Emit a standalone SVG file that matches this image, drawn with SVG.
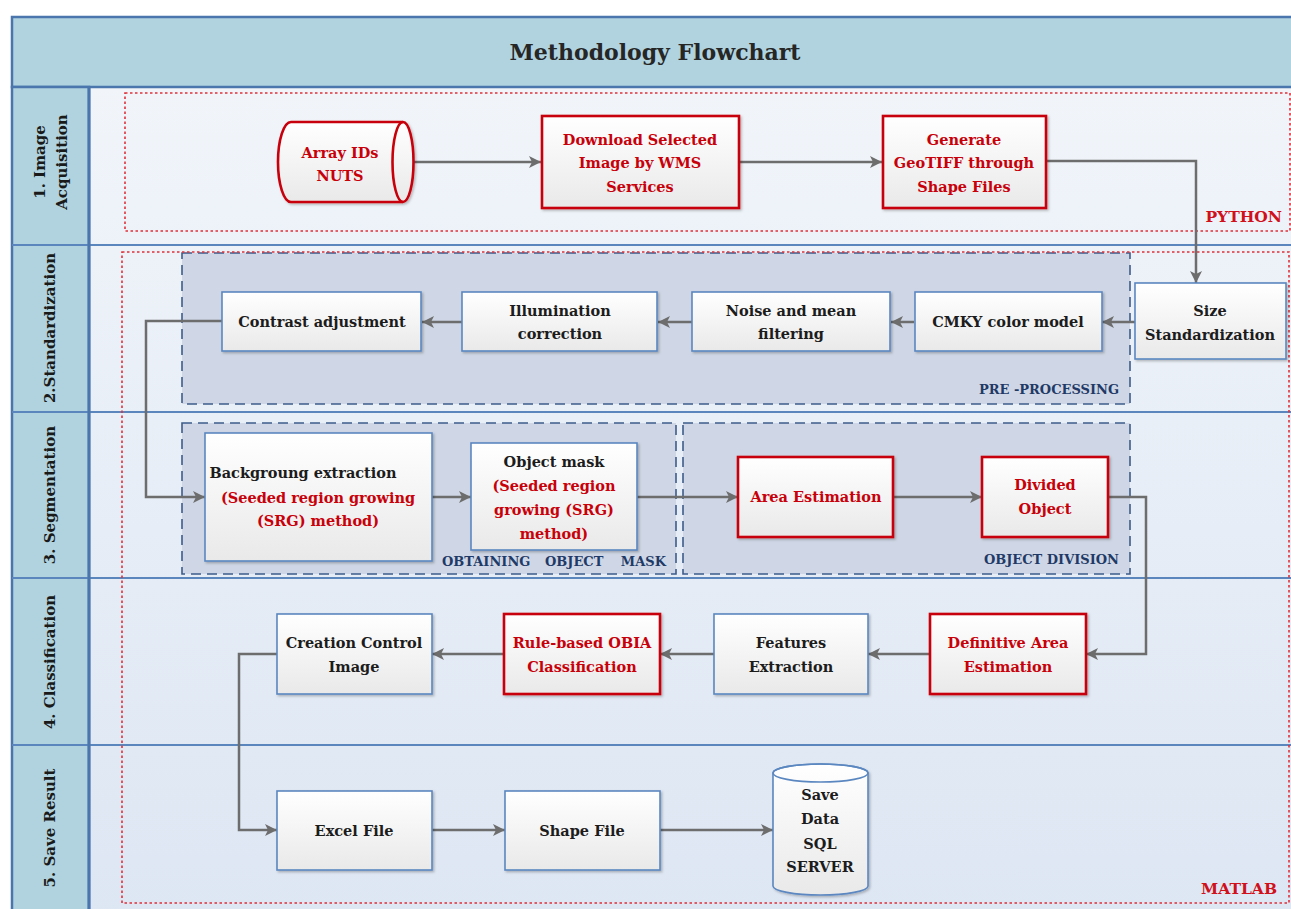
<svg xmlns="http://www.w3.org/2000/svg" width="1291" height="909" viewBox="0 0 1291 909">
<style>
.t{font-family:"DejaVu Serif","Liberation Serif",serif;font-weight:bold;font-size:14.5px;fill:#1c1c1c;text-anchor:middle}
.r{fill:#c8000a}
.lane{font-family:"DejaVu Serif","Liberation Serif",serif;font-weight:bold;font-size:15px;fill:#1a1a1a;text-anchor:middle}
.title{font-family:"DejaVu Serif","Liberation Serif",serif;font-weight:bold;font-size:22px;fill:#262626;text-anchor:middle}
.gl{font-family:"DejaVu Serif","Liberation Serif",serif;font-weight:bold;font-size:13px;fill:#1f3a66}
.env{font-family:"DejaVu Serif","Liberation Serif",serif;font-weight:bold;font-size:15.5px;fill:#d0101a;text-anchor:end}
.bn{fill:url(#nf);stroke:#5b87c0;stroke-width:1.6;filter:url(#sh)}
.rn{fill:url(#nf);stroke:#c8000a;stroke-width:2.6;filter:url(#sh)}
.grp{fill:#cfd7e6;stroke:#3d5c8a;stroke-width:1.6;stroke-dasharray:10,6}
.dot{fill:none;stroke:#e0303a;stroke-width:1.6;stroke-dasharray:2.5,2.5}
.c{fill:none;stroke:#6d6d6d;stroke-width:2.5;marker-end:url(#ah)}
.div{stroke:#5a85bd;stroke-width:2.2}
</style>
<defs>
<linearGradient id="nf" x1="0" y1="0" x2="0" y2="1"><stop offset="0" stop-color="#ffffff"/><stop offset="1" stop-color="#e9e9e9"/></linearGradient>
<linearGradient id="bg" x1="0" y1="0" x2="0" y2="1"><stop offset="0" stop-color="#f1f5fa"/><stop offset="1" stop-color="#dde6f3"/></linearGradient>
<filter id="sh" x="-10%" y="-10%" width="120%" height="130%"><feDropShadow dx="1.5" dy="1.5" stdDeviation="1.2" flood-color="#000" flood-opacity="0.25"/></filter>
<marker id="ah" markerWidth="13" markerHeight="12" refX="12" refY="6" orient="auto" markerUnits="userSpaceOnUse"><path d="M0,0 L12,6 L0,12 L3,6 Z" fill="#6d6d6d"/></marker>
</defs>
<rect x="0" y="0" width="1291" height="909" fill="#ffffff"/>
<g id="frame">
<rect x="89" y="87" width="1215" height="830" fill="url(#bg)"/>
<rect x="12" y="17" width="1290" height="70" fill="#b0d3df" stroke="#4a76ad" stroke-width="2.5"/>
<rect x="12" y="87" width="77" height="830" fill="#b0d3df" stroke="#4a76ad" stroke-width="2.5"/>
<line class="div" x1="12" y1="245" x2="1300" y2="245"/>
<line class="div" x1="12" y1="412" x2="1300" y2="412"/>
<line class="div" x1="12" y1="578" x2="1300" y2="578"/>
<line class="div" x1="12" y1="745" x2="1300" y2="745"/>
<line x1="89" y1="87" x2="89" y2="909" stroke="#4a76ad" stroke-width="3"/>
<text class="title" x="655" y="60">Methodology Flowchart</text>
<text class="lane" transform="translate(45,162) rotate(-90)">1. Image</text>
<text class="lane" transform="translate(67,162) rotate(-90)">Acquisition</text>
<text class="lane" transform="translate(55,328) rotate(-90)">2.Standardization</text>
<text class="lane" transform="translate(55,495) rotate(-90)">3. Segmentation</text>
<text class="lane" transform="translate(55,662) rotate(-90)">4. Classification</text>
<text class="lane" transform="translate(55,828) rotate(-90)">5. Save Result</text>
</g>
<g id="groups">
<rect class="grp" x="182" y="253" width="948" height="151"/>
<text class="gl" x="1119" y="394" text-anchor="end">PRE -PROCESSING</text>
<rect class="grp" x="182" y="423" width="494" height="151"/>
<text class="gl" x="442" y="566">OBTAINING</text>
<text class="gl" x="545" y="566">OBJECT</text>
<text class="gl" x="666" y="566" text-anchor="end">MASK</text>
<rect class="grp" x="683" y="423" width="447" height="151"/>
<text class="gl" x="1119" y="564" text-anchor="end">OBJECT DIVISION</text>
<rect class="dot" x="125" y="93" width="1165" height="138"/>
<text class="env" x="1282" y="222">PYTHON</text>
<rect class="dot" x="122" y="252" width="1167" height="651"/>
<text class="env" x="1277" y="894">MATLAB</text>
</g>
<g id="connectors">
<path class="c" d="M403,162 H541"/>
<path class="c" d="M739,162 H882"/>
<path class="c" d="M1046,161 H1196 V283"/>
<path class="c" d="M1135,322 H1102"/>
<path class="c" d="M914,322 H891"/>
<path class="c" d="M692,322 H658"/>
<path class="c" d="M462,322 H422"/>
<path class="c" d="M222,321 H146 V497 H205"/>
<path class="c" d="M432,497 H471"/>
<path class="c" d="M637,497 H738"/>
<path class="c" d="M893,497 H982"/>
<path class="c" d="M1108,497 H1146 V654 H1086"/>
<path class="c" d="M930,654 H868"/>
<path class="c" d="M714,654 H660"/>
<path class="c" d="M504,654 H432"/>
<path class="c" d="M277,654 H239 V830 H277"/>
<path class="c" d="M432,830 H505"/>
<path class="c" d="M660,830 H773"/>
</g>
<g id="n-array">
<path class="rn" d="M291,122 L403,122 A10.5,40 0 0 1 403,202 L291,202 A13,40 0 0 1 291,122 Z"/>
<path d="M403,122 A10.5,40 0 0 0 403,202" fill="none" stroke="#c8000a" stroke-width="2.6"/>
<text class="t r" x="340" y="158">Array IDs</text>
<text class="t r" x="340" y="181">NUTS</text>
</g>
<g id="n-download">
<rect class="rn" x="542" y="116" width="197" height="92"/>
<text class="t r" x="640" y="145">Download Selected</text>
<text class="t r" x="640" y="168">Image by WMS</text>
<text class="t r" x="640" y="192">Services</text>
</g>
<g id="n-geotiff">
<rect class="rn" x="883" y="116" width="163" height="92"/>
<text class="t r" x="964" y="145">Generate</text>
<text class="t r" x="964" y="168">GeoTIFF through</text>
<text class="t r" x="964" y="192">Shape Files</text>
</g>
<g id="n-size">
<rect class="bn" x="1135" y="283" width="151" height="76"/>
<text class="t" x="1210" y="316">Size</text>
<text class="t" x="1210" y="340">Standardization</text>
</g>
<g id="n-cmky">
<rect class="bn" x="915" y="292" width="187" height="59"/>
<text class="t" x="1008" y="327">CMKY color model</text>
</g>
<g id="n-noise">
<rect class="bn" x="692" y="292" width="198" height="59"/>
<text class="t" x="791" y="316">Noise and mean</text>
<text class="t" x="791" y="339">filtering</text>
</g>
<g id="n-illum">
<rect class="bn" x="462" y="292" width="195" height="59"/>
<text class="t" x="560" y="316">Illumination</text>
<text class="t" x="560" y="339">correction</text>
</g>
<g id="n-contrast">
<rect class="bn" x="222" y="292" width="199" height="59"/>
<text class="t" x="322" y="327">Contrast adjustment</text>
</g>
<g id="n-background">
<rect class="bn" x="205" y="433" width="227" height="128"/>
<text class="t" x="303" y="478">Backgroung extraction</text>
<text class="t r" x="318" y="503">(Seeded region growing</text>
<text class="t r" x="318" y="526">(SRG) method)</text>
</g>
<g id="n-objmask">
<rect class="bn" x="471" y="443" width="166" height="107"/>
<text class="t" x="554" y="467">Object mask</text>
<text class="t r" x="554" y="491">(Seeded region</text>
<text class="t r" x="554" y="515">growing (SRG)</text>
<text class="t r" x="554" y="539">method)</text>
</g>
<g id="n-area">
<rect class="rn" x="738" y="457" width="155" height="80"/>
<text class="t r" x="816" y="502">Area Estimation</text>
</g>
<g id="n-divided">
<rect class="rn" x="982" y="457" width="126" height="80"/>
<text class="t r" x="1045" y="490">Divided</text>
<text class="t r" x="1045" y="514">Object</text>
</g>
<g id="n-definitive">
<rect class="rn" x="930" y="614" width="156" height="80"/>
<text class="t r" x="1008" y="648">Definitive Area</text>
<text class="t r" x="1008" y="672">Estimation</text>
</g>
<g id="n-features">
<rect class="bn" x="714" y="614" width="154" height="80"/>
<text class="t" x="791" y="648">Features</text>
<text class="t" x="791" y="672">Extraction</text>
</g>
<g id="n-rule">
<rect class="rn" x="504" y="614" width="156" height="80"/>
<text class="t r" x="582" y="648">Rule-based OBIA</text>
<text class="t r" x="582" y="672">Classification</text>
</g>
<g id="n-creation">
<rect class="bn" x="277" y="614" width="155" height="80"/>
<text class="t" x="354" y="648">Creation Control</text>
<text class="t" x="354" y="672">Image</text>
</g>
<g id="n-excel">
<rect class="bn" x="277" y="791" width="155" height="79"/>
<text class="t" x="354" y="836">Excel File</text>
</g>
<g id="n-shape">
<rect class="bn" x="505" y="791" width="155" height="79"/>
<text class="t" x="582" y="836">Shape File</text>
</g>
<g id="n-sql">
<path class="bn" d="M773,773 L773,886 A47.5,9 0 0 0 868,886 L868,773 A47.5,9 0 0 0 773,773 Z"/>
<ellipse cx="820.5" cy="773" rx="47.5" ry="9" fill="none" stroke="#5b87c0" stroke-width="1.6"/>
<text class="t" x="820" y="800">Save</text>
<text class="t" x="820" y="824">Data</text>
<text class="t" x="820" y="849">SQL</text>
<text class="t" x="820" y="872">SERVER</text>
</g>
</svg>
